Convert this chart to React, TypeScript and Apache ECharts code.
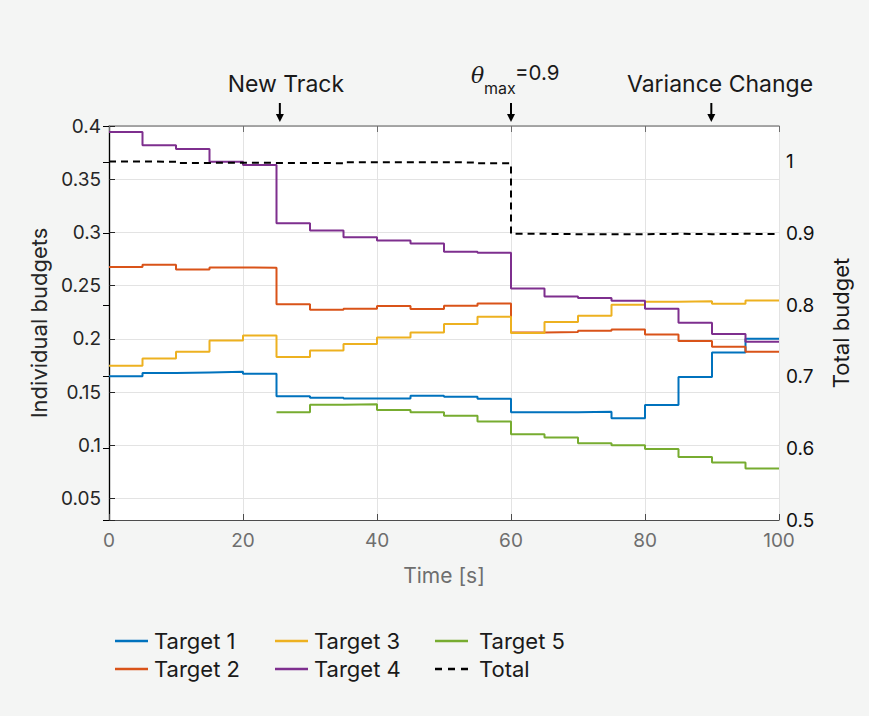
import React, { useEffect, useRef } from 'react';
import * as echarts from 'echarts';

const times = [0, 5, 10, 15, 20, 25, 30, 35, 40, 45, 50, 55, 60, 65, 70, 75, 80, 85, 90, 95];
const endTime = 100;

const target1 = [0.165, 0.168, 0.1686, 0.1692, 0.1674, 0.1461, 0.1449, 0.1442, 0.1442, 0.1467, 0.1458, 0.1439, 0.1311, 0.1311, 0.1317, 0.1255, 0.138, 0.1643, 0.1874, 0.2002];
const target2 = [0.2675, 0.2696, 0.2652, 0.2672, 0.2668, 0.2327, 0.2274, 0.2283, 0.2309, 0.2281, 0.2312, 0.2333, 0.2061, 0.2066, 0.2077, 0.2089, 0.2042, 0.198, 0.1927, 0.188];
const target3 = [0.1749, 0.1817, 0.188, 0.1986, 0.2033, 0.183, 0.1892, 0.1952, 0.2014, 0.2061, 0.214, 0.2208, 0.2055, 0.216, 0.2218, 0.2321, 0.2349, 0.2355, 0.233, 0.2362];
const target4 = [0.3944, 0.3819, 0.3784, 0.3665, 0.3634, 0.3087, 0.3018, 0.2956, 0.2924, 0.2896, 0.2818, 0.2809, 0.2474, 0.2399, 0.2384, 0.2358, 0.2283, 0.2152, 0.2046, 0.1974];
const target5 = [null, null, null, null, null, 0.1311, 0.1383, 0.1386, 0.1333, 0.1311, 0.128, 0.1224, 0.1105, 0.1074, 0.102, 0.1001, 0.0967, 0.0892, 0.0839, 0.0783];
const total = [1.0005, 1.0, 0.9985, 0.9988, 0.9985, 0.9985, 0.998, 0.9995, 0.9995, 0.9995, 0.999, 0.998, 0.8995, 0.899, 0.899, 0.899, 0.8995, 0.899, 0.8995, 0.899];

const seriesNames = ['Target 1', 'Target 2', 'Target 3', 'Target 4', 'Target 5'];
const seriesColors = ['#0072BD', '#D95319', '#EDB120', '#7E2F8E', '#77AC30'];
const legendColumns = [
  ['Target 1', 'Target 2'],
  ['Target 3', 'Target 4'],
  ['Target 5', 'Total'],
];

const annotationArrowTimes = [25.5, 60, 89.9];
const annotationLabels = ['New Track', 'Variance Change'];
const annotationTextTimes = [26.4, 60, 91.2];

const FONT = 'Inter, "Noto Sans", sans-serif';
const DASH_ICON = 'path://M0,0h7v2.5h-7z M13,0h7v2.5h-7z M26,0h7v2.5h-7z';

function stepData(vals: (number | null)[]) {
  const pts: [number, number][] = [];
  vals.forEach((v, i) => {
    if (v !== null) pts.push([times[i], v]);
  });
  const last = pts[pts.length - 1];
  pts.push([endTime, last[1]]);
  return pts;
}

export default function App() {
  const ref = useRef<HTMLDivElement>(null);
  useEffect(() => {
    const chart = echarts.init(ref.current!, null, { renderer: 'svg' });
    const targetSeries = [target1, target2, target3, target4, target5].map((vals, i) => ({
      name: seriesNames[i],
      type: 'line',
      step: 'end',
      xAxisIndex: 0,
      yAxisIndex: 0,
      symbol: 'none',
      data: stepData(vals),
      lineStyle: { color: seriesColors[i], width: 2 },
      itemStyle: { color: seriesColors[i] },
      z: 3,
    }));
    const legendLefts = [110, 270, 430];
    const legends = legendColumns.map((col, ci) => ({
      data: col.map((n) => ({ name: n, icon: n === 'Total' ? DASH_ICON : 'rect' })),
      left: legendLefts[ci],
      top: 622,
      orient: 'vertical',
      itemWidth: 33,
      itemHeight: 2.5,
      itemGap: 0,
      selectedMode: false,
      textStyle: {
        fontSize: 22,
        lineHeight: 28,
        color: '#1a1a1a',
        fontFamily: FONT,
        padding: [0, 0, 0, ci === 2 ? 6 : 1],
      },
    }));
    const option: any = {
      animation: false,
      backgroundColor: '#f4f5f4',
      textStyle: { fontFamily: FONT },
      grid: {
        left: 109,
        right: 90,
        top: 126,
        bottom: 196,
        show: true,
        backgroundColor: '#ffffff',
        borderWidth: 0,
        containLabel: false,
      },
      legend: legends,
      xAxis: [
        {
          type: 'value',
          min: 0,
          max: 100,
          interval: 20,
          position: 'bottom',
          name: 'Time [s]',
          nameLocation: 'middle',
          nameGap: 45,
          nameTextStyle: { fontSize: 21, color: '#6e6e6e', fontFamily: FONT },
          axisLine: { show: true, lineStyle: { color: '#4d4d4d', width: 1.2 } },
          axisTick: { show: true, inside: true, length: 6, lineStyle: { color: '#4d4d4d' } },
          axisLabel: { fontSize: 19, color: '#6e6e6e', margin: 11, fontFamily: FONT },
          splitLine: { show: true, lineStyle: { color: '#e3e3e3', width: 1 } },
        },
        {
          type: 'value',
          min: 0,
          max: 100,
          interval: 20,
          position: 'top',
          axisLine: { show: true, lineStyle: { color: '#8c8c8c', width: 1.5 } },
          axisTick: { show: true, inside: true, length: 6, lineStyle: { color: '#6e6e6e' } },
          axisLabel: { show: false },
          splitLine: { show: false },
        },
      ],
      yAxis: [
        {
          type: 'value',
          min: 0.03,
          max: 0.4,
          splitNumber: 7,
          minInterval: 0.05,
          maxInterval: 0.05,
          position: 'left',
          name: 'Individual budgets',
          nameLocation: 'middle',
          nameGap: 57,
          nameTextStyle: { fontSize: 22, color: '#262626', fontFamily: FONT },
          axisLine: { show: true, lineStyle: { color: '#262626', width: 1.2 } },
          axisTick: { show: true, inside: true, length: 6, lineStyle: { color: '#262626' } },
          axisLabel: {
            fontSize: 19,
            color: '#262626',
            margin: 8,
            fontFamily: FONT,
            formatter: (v: number) => {
              const k = Math.round(v / 0.05);
              if (Math.abs(v - k * 0.05) > 1e-6) return '';
              return String(+v.toFixed(2));
            },
          },
          splitLine: { show: true, lineStyle: { color: '#e3e3e3', width: 1 } },
        },
        {
          type: 'value',
          min: 0.5,
          max: 1.05,
          interval: 0.1,
          position: 'right',
          name: 'Total budget',
          nameLocation: 'middle',
          nameGap: 51,
          nameTextStyle: { fontSize: 22, color: '#1a1a1a', fontFamily: FONT },
          axisLine: { show: true, lineStyle: { color: '#000000', width: 1.2 } },
          axisTick: { show: true, inside: true, length: 6, lineStyle: { color: '#000000' } },
          axisLabel: {
            fontSize: 19,
            color: '#111111',
            margin: 7,
            fontFamily: FONT,
            formatter: (v: number) => (v > 1.001 ? '' : String(+v.toFixed(2))),
          },
          splitLine: { show: false },
        },
      ],
      series: [
        ...targetSeries,
        {
          name: 'Total',
          type: 'line',
          step: 'end',
          xAxisIndex: 0,
          yAxisIndex: 1,
          symbol: 'none',
          data: stepData(total),
          lineStyle: { color: '#000000', width: 2, type: [7, 5] },
          itemStyle: { color: '#000000' },
          z: 4,
        },
      ],
    };
    chart.setOption(option);

    const px = (t: number) => chart.convertToPixel({ xAxisIndex: 0 }, t) as number;
    const topY = chart.convertToPixel({ yAxisIndex: 0 }, 0.4) as number;
    const graphics: any[] = [];
    annotationArrowTimes.forEach((t) => {
      const x = px(t);
      graphics.push({
        type: 'line',
        shape: { x1: x, y1: topY - 23, x2: x, y2: topY - 10 },
        style: { stroke: '#000', lineWidth: 2 },
        z: 100,
      });
      graphics.push({
        type: 'polygon',
        shape: { points: [[x - 4, topY - 12], [x + 4, topY - 12], [x, topY - 4]] },
        style: { fill: '#000' },
        z: 100,
      });
    });
    graphics.push({
      type: 'text',
      x: px(annotationTextTimes[0]),
      y: topY - 42,
      style: { text: annotationLabels[0], fontSize: 23, fill: '#1a1a1a', align: 'center', verticalAlign: 'middle', fontFamily: FONT },
      z: 100,
    });
    graphics.push({
      type: 'text',
      x: px(annotationTextTimes[2]),
      y: topY - 42,
      style: { text: annotationLabels[1], fontSize: 23, fill: '#1a1a1a', align: 'center', verticalAlign: 'middle', fontFamily: FONT },
      z: 100,
    });
    const cx = px(annotationTextTimes[1]);
    graphics.push({
      type: 'text',
      x: cx - 40,
      y: topY - 51,
      style: { text: 'θ', fontSize: 22, fontStyle: 'italic', fill: '#1a1a1a', align: 'left', verticalAlign: 'middle', fontFamily: '"DejaVu Serif", "Liberation Serif", serif' },
      z: 100,
    });
    graphics.push({
      type: 'text',
      x: cx - 27,
      y: topY - 38,
      style: { text: 'max', fontSize: 16, fill: '#1a1a1a', align: 'left', verticalAlign: 'middle', fontFamily: FONT },
      z: 100,
    });
    graphics.push({
      type: 'text',
      x: cx + 4,
      y: topY - 54,
      style: { text: '=0.9', fontSize: 20.5, fill: '#1a1a1a', align: 'left', verticalAlign: 'middle', fontFamily: FONT },
      z: 100,
    });
    chart.setOption({ graphic: graphics });

    return () => chart.dispose();
  }, []);
  return <div ref={ref} style={{ position: 'absolute', left: 0, top: 0, width: 869, height: 716 }} />;
}
